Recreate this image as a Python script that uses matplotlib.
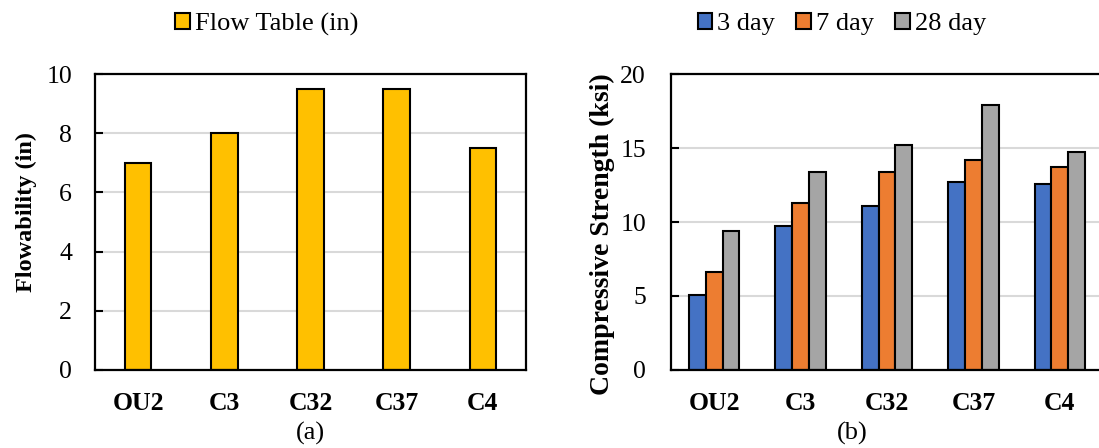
import matplotlib
matplotlib.use("Agg")
import matplotlib.pyplot as plt
import numpy as np

mixes = ["OU2", "C3", "C32", "C37", "C4"]
flow_table = [7.0, 8.0, 9.5, 9.5, 7.5]
day3 = [5.1, 9.7, 11.1, 12.7, 12.6]
day7 = [6.6, 11.3, 13.4, 14.2, 13.7]
day28 = [9.4, 13.4, 15.2, 17.9, 14.7]
ages = ["3 day", "7 day", "28 day"]
age_colors = ["#4472C4", "#ED7D31", "#A5A5A5"]

plt.rcParams['font.family'] = ['Liberation Serif', 'DejaVu Serif']
plt.rcParams['font.size'] = 18.5

W, H = 1099, 448
fig = plt.figure(figsize=(W / 100, H / 100), dpi=100)

def px(x0, y0, x1, y1):
    return [x0 / W, 1 - y1 / H, (x1 - x0) / W, (y1 - y0) / H]

def style(ax, ypad):
    for s in ax.spines.values():
        s.set_linewidth(1.6)
    ax.yaxis.grid(True, color="#d9d9d9", linewidth=1.5)
    ax.set_axisbelow(True)
    ax.tick_params(axis="y", direction="in", length=6, width=1.5, pad=ypad)
    ax.tick_params(axis="x", length=0, pad=15.5)
    for lab in ax.get_xticklabels():
        lab.set_fontweight("bold")

x = np.arange(len(mixes))

# (a) flowability
ax1 = fig.add_axes(px(95, 74, 526, 370))
ax1.bar(x, flow_table, width=0.31, color="#FFC000", edgecolor="black",
        linewidth=1.5, label="Flow Table (in)")
ax1.set_xlim(-0.5, 4.5)
ax1.set_ylim(0, 10)
ax1.set_yticks([0, 2, 4, 6, 8, 10])
ax1.set_xticks(x)
ax1.set_xticklabels(mixes)
ax1.set_ylabel("Flowability (in)", fontweight="bold", fontsize=17.5)
ax1.yaxis.set_label_coords(-0.135, 0.534)
style(ax1, 16.5)
ax1.legend(loc="center", bbox_to_anchor=(267 / W, 1 - 24 / H),
           bbox_transform=fig.transFigure, frameon=False, fontsize=19,
           handlelength=0.55, handleheight=0.55, handletextpad=0.2)

# (b) compressive strength
ax2 = fig.add_axes(px(671, 74, 1103, 370))
bw = 0.195
for i, (vals, lab, col) in enumerate(zip([day3, day7, day28], ages, age_colors)):
    ax2.bar(x + (i - 1) * bw, vals, width=bw, color=col, edgecolor="black",
            linewidth=1.5, label=lab)
ax2.set_xlim(-0.5, 4.5)
ax2.set_ylim(0, 20)
ax2.set_yticks([0, 5, 10, 15, 20])
ax2.set_xticks(x)
ax2.set_xticklabels(mixes)
ax2.set_ylabel("Compressive Strength (ksi)", fontweight="bold", fontsize=20)
ax2.yaxis.set_label_coords(-0.13, 0.46)
style(ax2, 18)
ax2.legend(loc="center", bbox_to_anchor=(842 / W, 1 - 24 / H),
           bbox_transform=fig.transFigure, frameon=False, fontsize=19, ncol=3,
           handlelength=0.55, handleheight=0.55, handletextpad=0.2,
           columnspacing=0.8)

fig.text(310 / W, 1 - 433 / H, "(a)", ha="center", va="center", fontsize=19)
fig.text(852 / W, 1 - 433 / H, "(b)", ha="center", va="center", fontsize=19)

fig.savefig("out.png", dpi=100)
